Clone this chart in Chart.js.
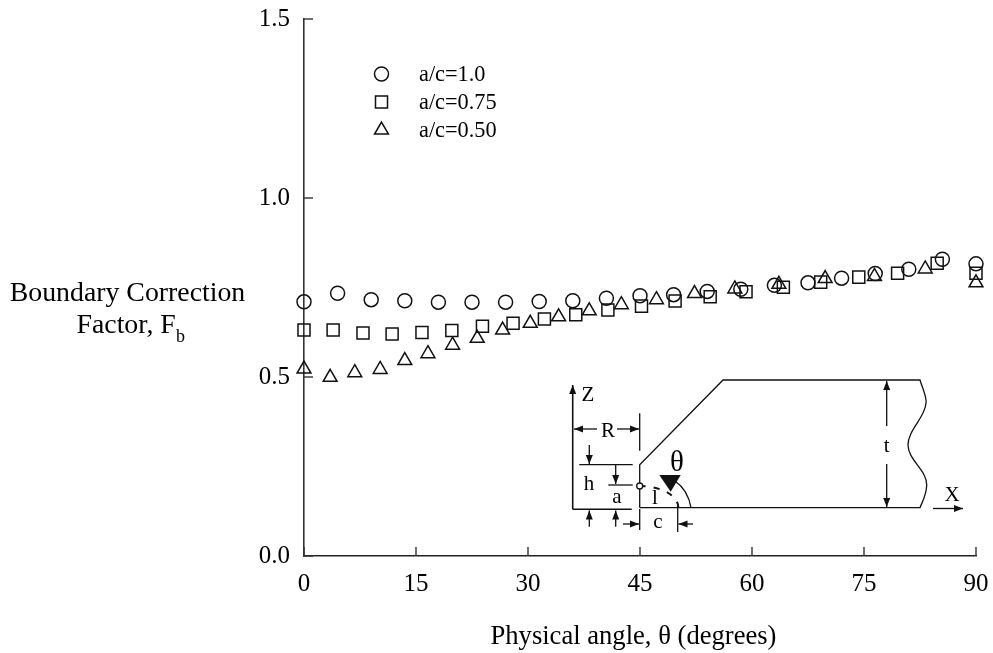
<!DOCTYPE html>
<html>
<head>
<meta charset="utf-8">
<title>Boundary Correction Factor</title>
<script src="https://cdn.jsdelivr.net/npm/chart.js@4"></script>
<style>
  html, body { margin: 0; padding: 0; background: #fff; }
  #wrap { width: 993px; height: 653px; }
</style>
</head>
<body>
<div id="wrap"><canvas id="chart" width="993" height="653"></canvas></div>
<script>
/* values: angle in degrees, factor F_b */
const circleAngle = [0, 4.5, 9, 13.5, 18, 22.5, 27, 31.5, 36, 40.5, 45, 49.5, 54, 58.5, 63, 67.5, 72, 76.5, 81, 85.5, 90];
const circleF = [.710, .734, .716, .713, .709, .709, .709, .711, .713, .720, .727, .730, .739, .745, .756, .763, .776, .789, .801, .829, .816];

const squareAngle = [0, 3.9, 7.9, 11.8, 15.8, 19.8, 23.9, 28, 32.2, 36.4, 40.7, 45.2, 49.7, 54.4, 59.2, 64.2, 69.2, 74.3, 79.5, 84.8, 90];
const squareF = [.631, .631, .623, .620, .624, .630, .642, .650, .662, .674, .687, .698, .712, .724, .738, .751, .765, .779, .790, .818, .790];

const triangleAngle = [0, 3.5, 6.8, 10.2, 13.5, 16.6, 19.9, 23.2, 26.6, 30.3, 34.1, 38.2, 42.5, 47.2, 52.3, 57.7, 63.6, 69.8, 76.4, 83.2, 90];
const triangleF = [.522, .499, .512, .521, .546, .565, .589, .608, .631, .650, .668, .685, .702, .716, .733, .746, .759, .775, .781, .802, .763];

const xTicks = [0, 15, 30, 45, 60, 75, 90];
const yTicks = [0, 0.5, 1.0, 1.5];

const SERIF = '"Liberation Serif", "Times New Roman", serif';
const pairs = (xs, ys) => xs.map((x, i) => ({ x, y: ys[i] }));

function series (label, xs, ys, style, radius) {
  return {
    label, data: pairs(xs, ys), showLine: false, clip: false,
    pointStyle: style, pointRadius: radius, pointHoverRadius: radius,
    pointBorderWidth: 1.5, pointBorderColor: '#111', pointBackgroundColor: 'transparent'
  };
}

function text (ctx, str, x, y, size, align) {
  ctx.font = `${size}px ${SERIF}`;
  ctx.textAlign = align || 'center';
  ctx.textBaseline = 'middle';
  ctx.fillStyle = '#000';
  ctx.fillText(str, x, y);
}

function line (ctx, x1, y1, x2, y2) {
  ctx.beginPath(); ctx.moveTo(x1, y1); ctx.lineTo(x2, y2); ctx.stroke();
}

/* line with a solid head at its (x2,y2) end */
function arrow (ctx, x1, y1, x2, y2) {
  line(ctx, x1, y1, x2, y2);
  const a = Math.atan2(y2 - y1, x2 - x1), n = 9, w = 3.5;
  ctx.beginPath();
  ctx.moveTo(x2, y2);
  ctx.lineTo(x2 - n * Math.cos(a) - w * Math.sin(a), y2 - n * Math.sin(a) + w * Math.cos(a));
  ctx.lineTo(x2 - n * Math.cos(a) + w * Math.sin(a), y2 - n * Math.sin(a) - w * Math.cos(a));
  ctx.closePath(); ctx.fill();
}

/* ── inward ticks ── */
const inwardTicks = {
  id: 'inwardTicks',
  afterDatasetsDraw (chart) {
    const { ctx, scales: { x, y } } = chart;
    ctx.save();
    ctx.strokeStyle = '#333'; ctx.lineWidth = 1.4;
    xTicks.forEach(v => { const p = x.getPixelForValue(v); line(ctx, p, y.bottom, p, y.bottom - 9); });
    yTicks.forEach(v => { const p = y.getPixelForValue(v); line(ctx, x.left, p, x.left + 9, p); });
    ctx.restore();
  }
};

/* ── legend block and the axis titles ── */
const labels = {
  id: 'labels',
  afterDraw (chart) {
    const { ctx } = chart;
    ctx.save();
    chart.data.datasets.forEach((d, i) => {
      const y = 74 + i * 28;
      ctx.strokeStyle = '#111'; ctx.lineWidth = 1.5; ctx.fillStyle = 'transparent';
      Chart.helpers.drawPoint(ctx, { pointStyle: d.pointStyle, radius: d.pointRadius, borderWidth: 1.5 }, 381.5, y);
      text(ctx, d.label, 419, y + 1, 22.3, 'left');
    });
    text(ctx, 'Boundary Correction', 127.5, 294, 27.8);
    text(ctx, 'Factor, F', 76.5, 326, 27.8, 'left');
    text(ctx, 'b', 176, 337, 18, 'left');
    text(ctx, 'Physical angle, θ (degrees)', 490.5, 637, 26.6, 'left');
    ctx.restore();
  }
};

/* ── specimen sketch inset ── */
const inset = {
  id: 'inset',
  afterDraw (chart) {
    const { ctx } = chart;
    ctx.save();
    ctx.strokeStyle = '#111'; ctx.fillStyle = '#111'; ctx.lineWidth = 1.3;

    // plate outline
    ctx.beginPath();
    ctx.moveTo(639.7, 507.7); ctx.lineTo(639.7, 464.7); ctx.lineTo(723, 380); ctx.lineTo(920, 380);
    ctx.bezierCurveTo(923, 390, 927, 397, 926, 403);
    ctx.bezierCurveTo(925, 418, 908, 430, 908, 445);
    ctx.bezierCurveTo(908, 460, 927, 470, 926.7, 485);
    ctx.bezierCurveTo(926.5, 495, 923, 500, 920, 507.7);
    ctx.lineTo(639.7, 507.7);
    ctx.stroke();

    // Z axis and base line
    ctx.lineWidth = 1.6;
    line(ctx, 572.7, 509.3, 631.7, 509.3);
    arrow(ctx, 572.7, 509.3, 572.7, 385);
    ctx.lineWidth = 1.3;

    // R
    line(ctx, 639.7, 413.3, 639.7, 450.7);
    arrow(ctx, 597, 429, 574, 429);
    arrow(ctx, 617, 429, 639, 429);

    // h, a
    line(ctx, 579.3, 464.7, 632.7, 464.7);
    line(ctx, 608.3, 485, 632.7, 485);
    arrow(ctx, 589.3, 445, 589.3, 464);
    arrow(ctx, 615.7, 465, 615.7, 484);
    arrow(ctx, 589.3, 526.7, 589.3, 510.5);
    arrow(ctx, 615.7, 526.7, 615.7, 510.5);

    // c
    line(ctx, 639.7, 509, 639.7, 530);
    line(ctx, 677.7, 505, 677.7, 532);
    arrow(ctx, 623, 524, 639, 524);
    arrow(ctx, 693, 524, 678.5, 524);

    // t
    arrow(ctx, 886.7, 426, 886.7, 381);
    arrow(ctx, 886.7, 464, 886.7, 507);

    // X
    arrow(ctx, 933, 508.5, 963, 508.5);

    // crack front, dashed
    ctx.lineWidth = 2;
    ctx.setLineDash([6, 8]);
    ctx.beginPath();
    ctx.ellipse(639.7, 507.7, 38.7, 21.7, 0, -Math.PI / 2, 0);
    ctx.stroke();
    ctx.setLineDash([]);
    ctx.lineWidth = 1.3;

    // angle arc and pointer
    ctx.beginPath();
    ctx.moveTo(691, 507.7);
    ctx.quadraticCurveTo(688, 490, 675, 481);
    ctx.stroke();
    ctx.beginPath();
    ctx.moveTo(659.3, 475); ctx.lineTo(680.7, 475); ctx.lineTo(670.7, 491.7);
    ctx.closePath(); ctx.fill();

    // corner node
    ctx.fillStyle = '#fff';
    ctx.beginPath(); ctx.arc(639.7, 486, 3, 0, Math.PI * 2); ctx.fill(); ctx.stroke();

    text(ctx, 'Z', 588, 395, 21);
    text(ctx, 'R', 608, 431, 21);
    text(ctx, 'h', 589, 484, 21);
    text(ctx, 'a', 617, 497, 21);
    text(ctx, 'l', 655, 498, 21);
    text(ctx, 'c', 658, 522, 21);
    text(ctx, 't', 886.7, 446, 21);
    text(ctx, 'X', 952, 495, 21);
    text(ctx, 'θ', 677, 463, 29);
    ctx.restore();
  }
};

new Chart(document.getElementById('chart'), {
  type: 'scatter',
  data: {
    datasets: [
      series('a/c=1.0', circleAngle, circleF, 'circle', 7),
      series('a/c=0.75', squareAngle, squareF, 'rect', 8.5),
      series('a/c=0.50', triangleAngle, triangleF, 'triangle', 8)
    ]
  },
  options: {
    responsive: false,
    animation: false,
    layout: { padding: { top: 19, right: 17, left: 0, bottom: 0 } },
    plugins: { legend: { display: false }, tooltip: { enabled: false } },
    scales: {
      x: {
        type: 'linear', min: 0, max: 90,
        afterFit: s => { s.height = 97; s.paddingLeft = 0; s.paddingRight = 0; },
        afterBuildTicks: s => { s.ticks = xTicks.map(value => ({ value })); },
        grid: { display: false, drawTicks: false },
        border: { color: '#222', width: 1.6 },
        ticks: { color: '#000', font: { family: SERIF, size: 25 }, padding: 13, maxRotation: 0 }
      },
      y: {
        type: 'linear', min: 0, max: 1.5,
        afterFit: s => { s.width = 304; s.paddingTop = 0; s.paddingBottom = 0; },
        afterBuildTicks: s => { s.ticks = yTicks.map(value => ({ value })); },
        grid: { display: false, drawTicks: false },
        border: { color: '#333', width: 1.6 },
        ticks: { color: '#000', font: { family: SERIF, size: 25 }, padding: 14, callback: v => v.toFixed(1) }
      }
    }
  },
  plugins: [inwardTicks, labels, inset]
});
</script>
</body>
</html>
